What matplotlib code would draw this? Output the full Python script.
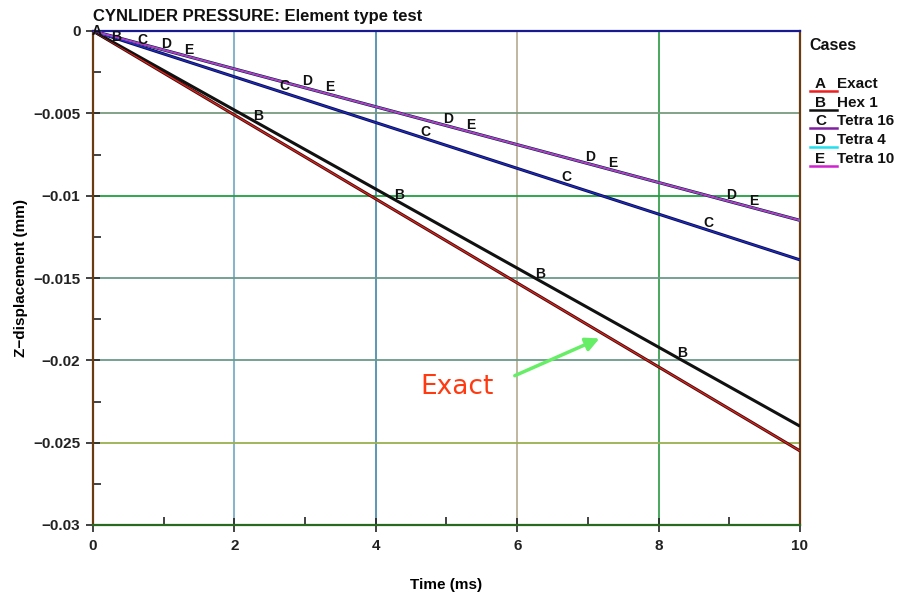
import matplotlib
matplotlib.use("Agg")
import matplotlib.pyplot as plt
import numpy as np

plt.rcParams['font.family'] = ['Liberation Sans', 'DejaVu Sans']

# Zeitpunkte (ms) und Verschiebungen (mm)
time = [0, 2, 4, 6, 8, 10]
exact = [0, -0.0051, -0.0102, -0.0153, -0.0204, -0.0255]
hex1 = [0, -0.0048, -0.0096, -0.0144, -0.0192, -0.0240]
tetra16 = [0, -0.00278, -0.00556, -0.00834, -0.01112, -0.0139]
tetra4 = [0, -0.0023, -0.0046, -0.0069, -0.0092, -0.0115]
tetra10 = [0, -0.0023, -0.0046, -0.0069, -0.0092, -0.0115]

letters = ["A", "B", "C", "D", "E"]
names = ["Exact", "Hex 1", "Tetra 16", "Tetra 4", "Tetra 10"]
label_times = [[0.0], [0.33, 2.33, 4.33, 6.33, 8.33], [0.7, 2.7, 4.7, 6.7, 8.7],
               [1.03, 3.03, 5.03, 7.03, 9.03], [1.35, 3.35, 5.35, 7.35, 9.35]]

xticks = [0, 2, 4, 6, 8, 10]
yticks = [0, -0.005, -0.01, -0.015, -0.02, -0.025, -0.03]
ytick_labels = ["0", "\u22120.005", "\u22120.01", "\u22120.015", "\u22120.02", "\u22120.025", "\u22120.03"]

series = [exact, hex1, tetra16, tetra4, tetra10]
core = ["#e8201a", "#111111", "#1a2ad8", "#20d8e8", "#d820d0"]
edge = ["#3a1010", "#111111", "#101040", "#20d8e8", "#502050"]
legend_col = ["#ee2020", "#111111", "#8020a0", "#20e0f0", "#d020d0"]

fig = plt.figure(figsize=(9.01, 5.92), dpi=100)
ax = fig.add_axes([93/901, 1-525/592, 707/901, 494/592])

# Gitterlinien in verschiedenen Farben wie im Original
vcol = {2: "#7aaec8", 4: "#4d8fb0", 6: "#bcb09a", 8: "#3aa050"}
for xv, c in vcol.items():
    ax.axvline(xv, color=c, lw=1.3, zorder=1)
hcol = {-0.005: "#7a9a80", -0.01: "#20a040", -0.015: "#6a9a8a", -0.02: "#6a9a8a", -0.025: "#9ab050"}
for yv, c in hcol.items():
    ax.axhline(yv, color=c, lw=1.3, zorder=1)

for i in range(5):
    ax.plot(time, series[i], color=edge[i], lw=2.2, zorder=3, solid_capstyle="butt")
    ax.plot(time, series[i], color=core[i], lw=0.9, zorder=4, solid_capstyle="butt")
    for t in label_times[i]:
        yv = np.interp(t, time, series[i])
        ax.text(t + (0.05 if i == 0 else 0), yv - (0.0004 if i == 0 else 0), letters[i],
                fontsize=10, fontweight="bold", color="#111111",
                ha="center", va="bottom", zorder=5)

ax.set_xlim(0, 10)
ax.set_ylim(-0.03, 0)
ax.set_xticks(xticks)
ax.set_xticklabels([str(x) for x in xticks], fontweight="bold", fontsize=11)
ax.set_yticks(yticks)
ax.set_yticklabels(ytick_labels, fontweight="bold", fontsize=11)
ax.set_xticks([1, 3, 5, 7, 9], minor=True)
ax.set_yticks([-0.0025, -0.0075, -0.0125, -0.0175, -0.0225, -0.0275], minor=True)
ax.tick_params(axis="both", which="major", direction="inout", length=10, width=1.2, colors="#222222")
ax.tick_params(axis="both", which="minor", direction="in", length=6, width=1.2, colors="#222222")
ax.tick_params(axis="x", pad=5)
ax.tick_params(axis="y", pad=4)

ax.spines["left"].set_color("#6a3a10")
ax.spines["bottom"].set_color("#2a6a20")
ax.spines["right"].set_color("#6a3a10")
ax.spines["top"].set_color("#1a1a90")
for s in ax.spines.values():
    s.set_linewidth(1.6)

ax.set_xlabel("Time (ms)", fontweight="bold", fontsize=11, labelpad=18)
ax.set_ylabel("Z\u2212displacement (mm)", fontweight="bold", fontsize=11, labelpad=4)

fig.text(93/901, 1-16/592, "CYNLIDER PRESSURE: Element type test", fontweight="bold",
         fontsize=12, ha="left", va="center", color="#111111")

# Legende von Hand
fig.text(809/901, 1-45/592, "Cases", fontweight="bold", fontsize=11.5, va="center", color="#111111")
for i in range(5):
    yy = 1 - (84 + i*18.7)/592
    fig.text(815/901, yy, letters[i], fontweight="bold", fontsize=11, va="center", color="#111111")
    fig.text(837/901, yy, names[i], fontweight="bold", fontsize=11, va="center", color="#111111")
    fig.add_artist(plt.Line2D([810/901, 837/901], [yy - 7/592, yy - 7/592], color=legend_col[i], lw=1.8))

# Pfeil mit "Exact"
ax.annotate("", xy=(7.2, -0.0186), xytext=(5.93, -0.0210),
            arrowprops=dict(arrowstyle="-|>", color="#66ee66", lw=2.5, mutation_scale=20), zorder=6)
ax.text(5.15, -0.0216, "Exact", color="#ff3a10", fontsize=19, ha="center", va="center",
        family=["DejaVu Sans"], zorder=6)

fig.savefig("out.png", dpi=100)
